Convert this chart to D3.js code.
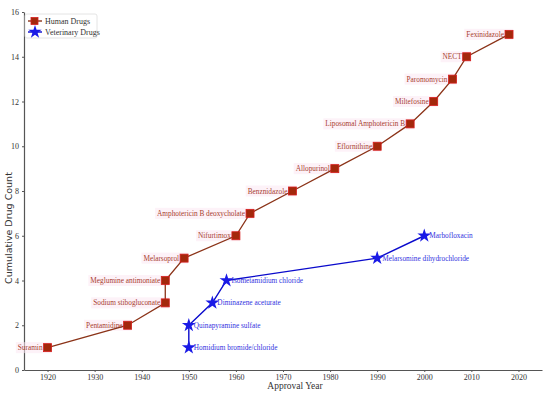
<!DOCTYPE html>
<html>
<head>
<meta charset="utf-8">
<script src="https://cdn.jsdelivr.net/npm/d3@7"></script>
<style>
  body { margin: 0; background: #fff; }
  text { font-family: "Liberation Serif", serif; }
</style>
</head>
<body>
<div id="chart"></div>
<script>
// data
var humanNames = ["Suramin", "Pentamidine", "Sodium stibogluconate", "Meglumine antimoniate", "Melarsoprol",
  "Nifurtimox", "Amphotericin B deoxycholate", "Benznidazole", "Allopurinol", "Eflornithine",
  "Liposomal Amphotericin B", "Miltefosine", "Paromomycin", "NECT", "Fexinidazole"];
var humanYears = [1920, 1937, 1945, 1945, 1949, 1960, 1963, 1972, 1981, 1990, 1997, 2002, 2006, 2009, 2018];
var humanCounts = [1, 2, 3, 4, 5, 6, 7, 8, 9, 10, 11, 12, 13, 14, 15];

var vetNames = ["Homidium bromide/chloride", "Quinapyramine sulfate", "Diminazene aceturate",
  "Isometamidium chloride", "Melarsomine dihydrochloride", "Marbofloxacin"];
var vetYears = [1950, 1950, 1955, 1958, 1990, 2000];
var vetCounts = [1, 2, 3, 4, 5, 6];

var xTicks = [1920, 1930, 1940, 1950, 1960, 1970, 1980, 1990, 2000, 2010, 2020];
var yTicks = [0, 2, 4, 6, 8, 10, 12, 14, 16];

var svgWidth = 550;
var svgHeight = 396;
var margin = { top: 12, right: 8, bottom: 26, left: 24 };
var width = svgWidth - margin.left - margin.right;
var height = svgHeight - margin.top - margin.bottom;

var svg = d3.select("#chart").append("svg")
  .attr("width", svgWidth).attr("height", svgHeight);

var chartGroup = svg.append("g")
  .attr("transform", `translate(${margin.left}, ${margin.top})`);

var x = d3.scaleLinear().domain([1915, 2025]).range([0, width]);
var y = d3.scaleLinear().domain([0, 16]).range([height, 0]);

// axes
var xAxis = chartGroup.append("g")
  .attr("transform", `translate(0, ${height})`)
  .call(d3.axisBottom(x).tickValues(xTicks).tickFormat(d3.format("d")).tickSize(2).tickPadding(2).tickSizeOuter(0));
var yAxis = chartGroup.append("g")
  .call(d3.axisLeft(y).tickValues(yTicks).tickSize(2).tickPadding(3).tickSizeOuter(0));

[xAxis, yAxis].forEach(function(a) {
  a.selectAll("path").attr("stroke", "#555").attr("stroke-width", 1.2);
  a.selectAll("line").attr("stroke", "#555");
  a.selectAll("text").attr("fill", "#333").style("font-size", "8px")
    .style("font-family", "'Liberation Serif', serif");
});

svg.append("text")
  .attr("x", margin.left + width / 2 + 12)
  .attr("y", 389)
  .attr("text-anchor", "middle")
  .attr("fill", "#333")
  .style("font-size", "9.5px")
  .text("Approval Year");

svg.append("text")
  .attr("transform", "rotate(-90)")
  .attr("x", -(margin.top + height / 2 + 37))
  .attr("y", 12)
  .attr("text-anchor", "middle")
  .attr("fill", "#333")
  .style("font-size", "9.5px")
  .style("font-family", "'DejaVu Sans', sans-serif")
  .text("Cumulative Drug Count");

var human = humanYears.map(function(d, i) { return { name: humanNames[i], year: d, count: humanCounts[i] }; });
var vet = vetYears.map(function(d, i) { return { name: vetNames[i], year: d, count: vetCounts[i] }; });

var line = d3.line().x(d => x(d.year)).y(d => y(d.count));

// human labels with faint boxes
var hLabels = chartGroup.selectAll(".hlab").data(human).enter().append("g").attr("class", "hlab");
hLabels.append("text")
  .attr("x", d => x(d.year) - 5)
  .attr("y", d => y(d.count) + 2.5)
  .attr("text-anchor", "end")
  .attr("fill", "#a8412f")
  .style("font-size", "7.3px")
  .text(d => d.name);
hLabels.each(function() {
  var t = d3.select(this).select("text");
  var b = t.node().getBBox();
  d3.select(this).insert("rect", "text")
    .attr("x", b.x - 2).attr("y", b.y - 1)
    .attr("width", b.width + 11).attr("height", b.height + 2)
    .attr("fill", "#fce8f2").attr("opacity", 0.55);
});

chartGroup.append("path").datum(human)
  .attr("d", line).attr("fill", "none")
  .attr("stroke", "#8b3318").attr("stroke-width", 1.3);

chartGroup.selectAll(".hmark").data(human).enter().append("rect")
  .attr("class", "hmark")
  .attr("x", d => x(d.year) - 4)
  .attr("y", d => y(d.count) - 4)
  .attr("width", 8).attr("height", 8)
  .attr("fill", "#a3280c")
  .attr("stroke", "#d81e1e").attr("stroke-width", 0.8);

// veterinary
chartGroup.append("path").datum(vet)
  .attr("d", line).attr("fill", "none")
  .attr("stroke", "#0a0acc").attr("stroke-width", 1.4);

var star = d3.symbol().type(d3.symbolStar).size(60);
chartGroup.selectAll(".vmark").data(vet).enter().append("path")
  .attr("class", "vmark")
  .attr("transform", d => `translate(${x(d.year)}, ${y(d.count)})`)
  .attr("d", star)
  .attr("fill", "#1a1ae6");

chartGroup.selectAll(".vlab").data(vet).enter().append("text")
  .attr("x", d => x(d.year) + 5)
  .attr("y", d => y(d.count) + 2.5)
  .attr("fill", "#3333e0")
  .style("font-size", "7.3px")
  .text(d => d.name);

// legend
var legend = svg.append("g").attr("transform", "translate(25, 14)");
legend.append("rect")
  .attr("width", 72).attr("height", 24)
  .attr("fill", "#fff").attr("stroke", "#ddd").attr("stroke-width", 0.8).attr("rx", 2);

legend.append("line").attr("x1", 3).attr("x2", 17).attr("y1", 7).attr("y2", 7)
  .attr("stroke", "#8b3318").attr("stroke-width", 1.4);
legend.append("rect").attr("x", 6).attr("y", 3.5).attr("width", 7).attr("height", 7)
  .attr("fill", "#a3280c").attr("stroke", "#d81e1e").attr("stroke-width", 0.8);
legend.append("text").attr("x", 20).attr("y", 10).attr("fill", "#333")
  .style("font-size", "8px").text("Human Drugs");

legend.append("line").attr("x1", 3).attr("x2", 17).attr("y1", 18).attr("y2", 18)
  .attr("stroke", "#0a0acc").attr("stroke-width", 1.4);
legend.append("path").attr("transform", "translate(10, 18)")
  .attr("d", d3.symbol().type(d3.symbolStar).size(55)).attr("fill", "#1a1ae6");
legend.append("text").attr("x", 20).attr("y", 21).attr("fill", "#333")
  .style("font-size", "8px").text("Veterinary Drugs");
</script>
</body>
</html>
